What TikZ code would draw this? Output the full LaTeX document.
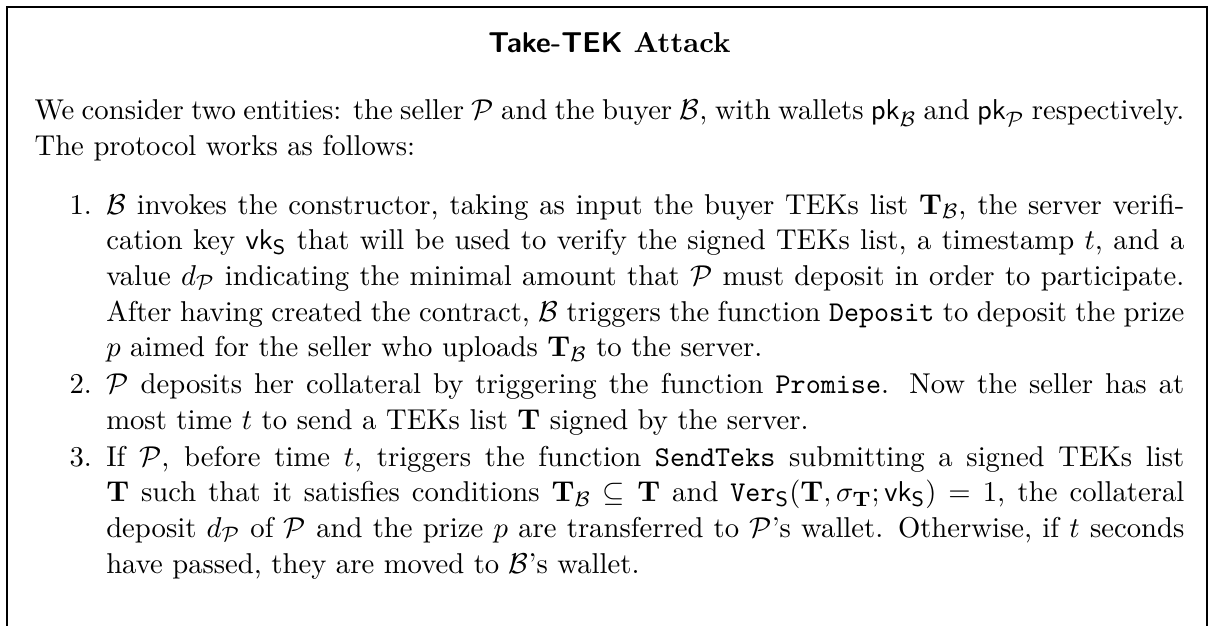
\documentclass[tikz,border=0pt]{standalone}
\usepackage{amsmath}
\usepackage{amssymb}
\usepackage{enumitem}
\usetikzlibrary{positioning}

\begin{document}
\begin{tikzpicture}[
		font=\fontsize{10.95}{13.6}\selectfont,
		frame/.style={line width=0.7pt},
		heading/.style={inner sep=0pt, font=\fontsize{10.95}{13.6}\selectfont\bfseries},
		body/.style={inner sep=0pt, text width=439pt, align=justify},
		]
		\useasboundingbox (0,0) rectangle (462pt,239pt);
		\draw[frame] (2.7pt,0) -- (2.7pt,236.3pt) -- (461pt,236.3pt) -- (461pt,0);
		
		\node[body, anchor=north west] (desc) at (13pt,201.2pt)
		{\noindent We consider two entities: the seller $\mathcal{P}$ and the buyer $\mathcal{B}$, with wallets $\mathsf{pk}_{\mathcal{B}}$ and $\mathsf{pk}_{\mathcal{P}}$ respectively. The protocol works as follows:
			\begin{enumerate}[leftmargin=2.5em, labelsep=0.5em, topsep=9pt, partopsep=0pt, itemsep=0.5pt, parsep=0pt]
				\item $\mathcal{B}$ invokes the constructor, taking as input the buyer TEKs list $\mathbf{T}_{\mathcal{B}}$, the server verification key $\mathsf{vk}_{\mathsf{S}}$ that will be used to verify the signed TEKs list, a timestamp $t$, and a value $d_{\mathcal{P}}$ indicating the minimal amount that $\mathcal{P}$ must deposit in order to participate. After having created the contract, $\mathcal{B}$ triggers the function \texttt{Deposit} to deposit the prize $p$ aimed for the seller who uploads $\mathbf{T}_{\mathcal{B}}$ to the server.
				\item $\mathcal{P}$ deposits her collateral by triggering the function \texttt{Promise}. Now the seller has at most time $t$ to send a TEKs list $\mathbf{T}$ signed by the server.
				\item If $\mathcal{P}$, before time $t$, triggers the function \texttt{SendTeks} submitting a signed TEKs list $\mathbf{T}$ such that it satisfies conditions $\mathbf{T}_{\mathcal{B}} \subseteq \mathbf{T}$ and $\mathtt{Ver}_{\mathsf{S}}(\mathbf{T}, \sigma_{\mathbf{T}}; \mathsf{vk}_{\mathsf{S}}) = 1$, the collateral deposit $d_{\mathcal{P}}$ of $\mathcal{P}$ and the prize $p$ are transferred to $\mathcal{P}$'s wallet. Otherwise, if $t$ seconds have passed, they are moved to $\mathcal{B}$'s wallet.
			\end{enumerate}};
		\node[heading, above=17.6pt of desc] (title) {\textsf{Take-TEK} Attack};
		
	\end{tikzpicture}
\end{document}
